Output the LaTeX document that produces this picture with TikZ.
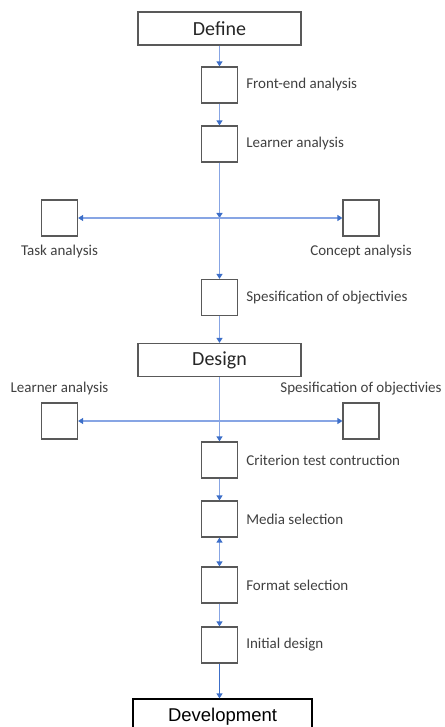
\documentclass[tikz,border=0pt]{standalone}
\usepackage{fontspec}
\setmainfont{Carlito}
\newfontfamily\devfont{Liberation Sans}
\usetikzlibrary{arrows.meta, positioning}
\definecolor{boxgray}{RGB}{89,89,89}
\definecolor{txtgray}{RGB}{64,64,64}
\definecolor{linkblue}{RGB}{135,165,228}
\definecolor{tipblue}{RGB}{60,110,200}

\begin{document}
\begin{tikzpicture}[x=1pt, y=-1pt,
  every node/.style={font=\fontsize{15}{18}\selectfont, text=txtgray},
  phase/.style={draw=boxgray, line width=1.2pt, minimum width=163pt, minimum height=33pt,
                inner sep=0pt, font=\fontsize{20}{24}\selectfont, text=black!85},
  sbox/.style={draw=boxgray, line width=1.2pt, minimum size=36pt, inner sep=0pt},
  lbl/.style={inner sep=0pt},
  link/.style={draw=linkblue, line width=1.4pt, -{Triangle[width=6pt, length=5pt, color=tipblue]}},
  twolink/.style={draw=linkblue, line width=1.4pt,
                  {Triangle[width=6pt, length=5pt, color=tipblue]}-{Triangle[width=6pt, length=5pt, color=tipblue]}}]
  \useasboundingbox (0,0) rectangle (444,727);
  \clip (0,0) rectangle (444,727);

  % define stage
  \node[phase] (define) at (219.5,28.5) {Define};
  \foreach \name/\y/\txt in {fe/85/Front-end analysis, la/144/Learner analysis,
                             so/297.5/Spesification of objectivies} {
    \node[sbox] (\name) at (219.5,\y) {};
    \node[lbl, right=8pt of \name] (\name-l) {\txt};
  }
  \coordinate (j1) at (219.5,218);
  \node[sbox] (ta) at (59.5,218) {};
  \node[lbl, below=8pt of ta] (ta-l) {Task analysis};
  \node[sbox] (ca) at (361,218) {};
  \node[lbl, below=8pt of ca] (ca-l) {Concept analysis};

  % design stage
  \node[phase] (design) at (219.5,360) {Design};
  \coordinate (j2) at (219.5,421);
  \node[sbox] (la2) at (59.5,421) {};
  \node[lbl, above=7pt of la2] (la2-l) {Learner analysis};
  \node[sbox] (so2) at (361,421) {};
  \node[lbl, above=7pt of so2] (so2-l) {Spesification of objectivies};
  \foreach \name/\y/\txt in {ct/460/Criterion test contruction, ms/519/Media selection,
                             fs/585/Format selection, id/645/Initial design} {
    \node[sbox] (\name) at (219.5,\y) {};
    \node[lbl, right=8pt of \name] (\name-l) {\txt};
  }

  % development
  \node[draw=black, line width=1.2pt, minimum width=179pt, minimum height=36pt, inner sep=0pt,
        font=\devfont\fontsize{18.5}{22}\selectfont, text=black] (dev) at (222.5,717) {Development};

  % connectors
  \draw[link] (define) -- (fe);
  \draw[link] (fe) -- (la);
  \draw[link] (la) -- (j1);
  \draw[link] (j1) -- (ta);
  \draw[link] (j1) -- (ca);
  \draw[link] (j1) -- (so);
  \draw[link] (so) -- (design);
  \draw[link] (design) -- (ct);
  \draw[link] (j2) -- (la2);
  \draw[link] (j2) -- (so2);
  \draw[link] (ct) -- (ms);
  \draw[twolink] (ms) -- (fs);
  \draw[link] (fs) -- (id);
  \draw[link, draw=tipblue, line width=1.8pt] (id) -- (id |- dev.north);
\end{tikzpicture}
\end{document}
